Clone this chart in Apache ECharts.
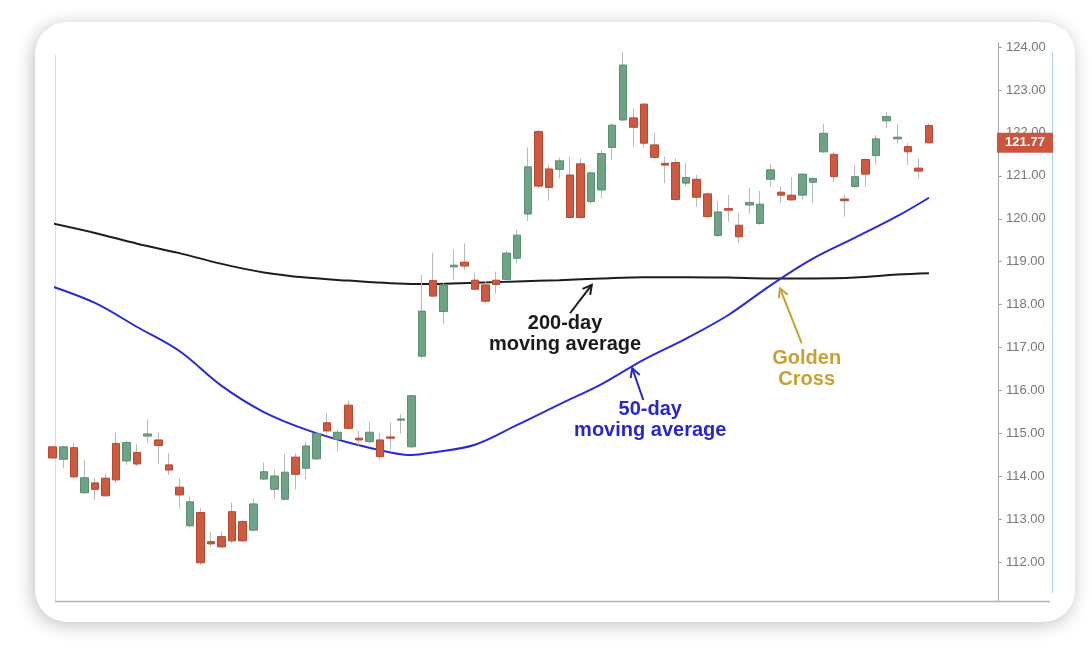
<!DOCTYPE html>
<html><head><meta charset="utf-8">
<script src="https://cdn.jsdelivr.net/npm/echarts@6/dist/echarts.min.js"></script>
<style>
html,body{margin:0;padding:0;background:#fff;width:1092px;height:653px;overflow:hidden;}
#card{position:absolute;left:35px;top:22px;width:1040px;height:600px;border-radius:32px;background:#fff;box-shadow:-2px 3px 18px rgba(0,0,0,0.25);}
#chart{position:absolute;left:0;top:0;width:1092px;height:653px;}
</style></head><body>
<div id="card"></div><div id="chart"></div>
<script>
// ---- data ----
const opens  = [114.69,114.40,114.67,113.62,113.85,113.96,114.77,114.36,114.56,114.94,114.85,114.27,113.75,112.85,113.16,112.48,112.60,113.18,112.95,112.75,113.94,113.70,113.47,114.45,114.19,114.41,115.25,114.86,115.66,114.89,114.81,114.85,114.92,115.31,114.69,116.80,118.56,117.84,118.88,118.99,118.57,118.46,118.57,118.59,119.08,120.11,122.03,121.16,121.15,121.02,121.28,120.40,120.67,121.66,122.30,122.35,122.67,121.72,121.29,121.31,120.83,120.92,120.58,119.61,120.24,119.85,120.32,119.89,120.92,120.62,120.55,120.55,120.85,121.56,121.50,120.46,120.75,121.38,121.47,122.28,121.86,121.68,121.18,122.17];
const closes = [114.43,114.69,113.99,113.97,113.70,113.55,113.92,114.79,114.29,114.99,114.72,114.15,113.57,113.41,111.99,112.43,112.36,112.50,112.50,113.36,114.11,114.01,114.10,114.05,114.71,115.00,115.06,115.03,115.12,114.85,115.03,114.46,114.89,115.34,115.88,117.85,118.20,118.46,118.92,118.90,118.36,118.08,118.47,119.20,119.62,121.21,120.76,120.73,121.35,120.03,120.03,121.07,121.52,122.18,123.58,122.13,121.76,121.43,121.25,120.45,120.96,120.50,120.05,120.16,120.20,119.58,120.38,120.34,121.14,120.55,120.44,121.04,120.94,121.99,120.98,120.42,120.98,121.04,121.86,122.38,121.90,121.56,121.11,121.77];
const lows   = [114.34,114.20,113.96,113.59,113.45,113.53,113.85,114.27,114.24,114.79,114.29,114.03,113.24,112.82,111.94,112.36,112.34,112.44,112.47,112.72,113.91,113.49,113.44,113.70,113.94,114.38,115.00,114.58,115.09,114.73,114.77,114.38,114.62,115.00,114.66,116.75,118.18,117.55,118.57,118.81,118.33,118.03,118.26,118.56,118.97,119.95,120.72,120.42,120.94,120.01,120.01,120.34,120.48,121.37,122.27,121.68,121.66,121.40,120.83,120.42,120.75,120.28,120.01,119.58,119.93,119.43,120.11,119.86,120.75,120.36,120.42,120.44,120.36,121.53,120.86,120.05,120.72,120.76,121.25,122.11,121.76,121.25,120.94,121.75];
const highs  = [114.78,114.72,114.78,114.38,113.96,114.06,115.02,114.82,114.75,115.33,115.02,114.54,113.96,113.53,113.26,112.71,112.72,113.39,112.98,113.49,114.32,114.15,114.52,114.54,114.81,115.03,115.48,115.10,115.76,115.06,115.27,115.02,115.26,115.45,115.90,118.69,119.21,118.50,119.29,119.43,118.73,118.54,118.77,119.25,119.74,121.66,122.06,121.25,121.43,121.43,121.41,121.10,121.60,122.22,123.89,122.57,122.70,121.99,121.45,121.41,121.31,121.02,120.61,120.40,120.55,120.13,120.72,120.65,121.28,120.76,120.97,121.06,120.96,122.21,121.56,120.55,121.25,121.41,121.95,122.49,122.21,121.77,121.41,122.22];
const ma200Idx = [0,4,8,12,16,20,24,28,32,36,40,44,48,52,56,60,64,68,72,76,80,83];
const ma200    = [119.89,119.67,119.42,119.20,118.95,118.75,118.63,118.56,118.50,118.48,118.51,118.54,118.57,118.61,118.64,118.64,118.63,118.61,118.61,118.63,118.70,118.73];
const ma50Idx  = [0,4,8,12,16,20,24,28,32,34,36,40,44,48,52,56,60,64,68,72,76,80,83];
const ma50     = [118.42,118.04,117.48,116.92,116.11,115.50,115.09,114.79,114.56,114.50,114.56,114.74,115.20,115.68,116.15,116.72,117.21,117.76,118.45,119.07,119.56,120.06,120.49];
const yTicks   = [112,113,114,115,116,117,118,119,120,121,122,123,124];
const lastPrice = closes[closes.length - 1];

// ---- build ----
const wickData = opens.map((o, i) => [i, o, closes[i], lows[i], highs[i]]);
const bodyData = opens.map((o, i) => [i, o, closes[i], Math.min(o, closes[i]), Math.max(o, closes[i])]);
const ma200Data = ma200Idx.map((k, i) => [k, ma200[i]]);
const ma50Data = ma50Idx.map((k, i) => [k, ma50[i]]);

const X_MIN = 0.218, X_MAX = 89.54, Y_MIN = 111.1, Y_MAX = 124.1;

const chart = echarts.init(document.getElementById('chart'), null, {renderer: 'canvas'});
const option = {
  animation: false,
  backgroundColor: 'transparent',
  grid: {left: 55, right: 94, top: 42.7, bottom: 52},
  xAxis: {type: 'value', min: X_MIN, max: X_MAX, show: false},
  yAxis: {
    type: 'value', position: 'right', min: Y_MIN, max: Y_MAX, scale: true,
    axisLine: {show: true, lineStyle: {color: '#a8a8a8', width: 1}},
    axisTick: {show: true, length: 4, lineStyle: {color: '#a8a8a8'}, customValues: yTicks},
    axisLabel: {customValues: yTicks, formatter: v => v.toFixed(2), color: '#777', fontSize: 13,
                fontFamily: '"Liberation Sans", Arial, sans-serif', margin: 8},
    splitLine: {show: false}
  },
  series: [
    {type: 'line', data: ma200Data, showSymbol: false, smooth: 0.35,
     lineStyle: {color: '#1c1c1c', width: 2}, itemStyle: {color: '#1c1c1c'}, z: 2, silent: true},
    {type: 'line', data: ma50Data, showSymbol: false, smooth: 0.35,
     lineStyle: {color: '#2a2ad4', width: 2}, itemStyle: {color: '#2a2ad4'}, z: 2, silent: true},
    {type: 'candlestick', data: wickData, barWidth: 0.01, encode: {x: 0, y: [1, 2, 3, 4]},
     itemStyle: {color: '#b9b9b9', color0: '#b9b9b9', borderColor: '#b9b9b9', borderColor0: '#b9b9b9', borderWidth: 1},
     z: 3, silent: true},
    {type: 'candlestick', data: bodyData, barWidth: 8, encode: {x: 0, y: [1, 2, 3, 4]},
     itemStyle: {color: '#6fa385', color0: '#cd5a40', borderColor: '#5a8f70', borderColor0: '#b5492f', borderWidth: 1},
     z: 4, silent: true}
  ]
};
chart.setOption(option);

function px(x, y) { return chart.convertToPixel({gridIndex: 0}, [x, y]); }
function arrow(from, to, color) {
  const a = px(from[0], from[1]), b = px(to[0], to[1]);
  const ang = Math.atan2(b[1] - a[1], b[0] - a[0]);
  const L = 10, sp = 0.5;
  const h1 = [b[0] - L * Math.cos(ang - sp), b[1] - L * Math.sin(ang - sp)];
  const h2 = [b[0] - L * Math.cos(ang + sp), b[1] - L * Math.sin(ang + sp)];
  return [
    {type: 'polyline', shape: {points: [a, b]}, style: {stroke: color, lineWidth: 2, fill: null}, z: 20},
    {type: 'polyline', shape: {points: [h1, b, h2]}, style: {stroke: color, lineWidth: 2, fill: null}, z: 20}
  ];
}
function label(pos, text, color) {
  const p = px(pos[0], pos[1]);
  return {type: 'text', x: p[0], y: p[1], z: 20,
    style: {text: text, fill: color, font: 'bold 20px "Liberation Sans", Arial, sans-serif',
            align: 'center', verticalAlign: 'middle', lineHeight: 21}};
}

const tl = px(X_MIN, Y_MAX), br = px(X_MAX, Y_MIN);
const pp = px(X_MAX, lastPrice);
const graphics = [
  {type: 'line', shape: {x1: tl[0] + 0.5, y1: 55, x2: tl[0] + 0.5, y2: br[1]}, style: {stroke: '#dcdcdc', lineWidth: 1}, z: 1},
  {type: 'line', shape: {x1: tl[0], y1: br[1] + 0.5, x2: br[0] + 52, y2: br[1] + 0.5}, style: {stroke: '#b0b0b0', lineWidth: 1.5}, z: 1},
  {type: 'line', shape: {x1: br[0] + 54.5, y1: 52, x2: br[0] + 54.5, y2: 593}, style: {stroke: '#a9d3f2', lineWidth: 1}, z: 1},
  {type: 'rect', shape: {x: pp[0] - 1, y: pp[1] - 10, width: 56, height: 20}, style: {fill: '#c9553e'}, z: 30},
  {type: 'text', x: pp[0] + 27, y: pp[1], z: 31,
   style: {text: lastPrice.toFixed(2), fill: '#fff', font: 'bold 13px "Liberation Sans", Arial, sans-serif', align: 'center', verticalAlign: 'middle'}},
  label([48.53, 117.32], '200-day\nmoving average', '#1a1a1a'),
  label([56.6, 115.31], '50-day\nmoving average', '#2626cc'),
  label([71.42, 116.50], 'Golden\nCross', '#c9a032'),
  ...arrow([49.0, 117.80], [51.06, 118.46], '#1a1a1a'),
  ...arrow([55.94, 115.78], [54.90, 116.52], '#2626cc'),
  ...arrow([70.95, 117.10], [68.89, 118.38], '#c9a032')
];
chart.setOption({graphic: graphics});
</script></body></html>
